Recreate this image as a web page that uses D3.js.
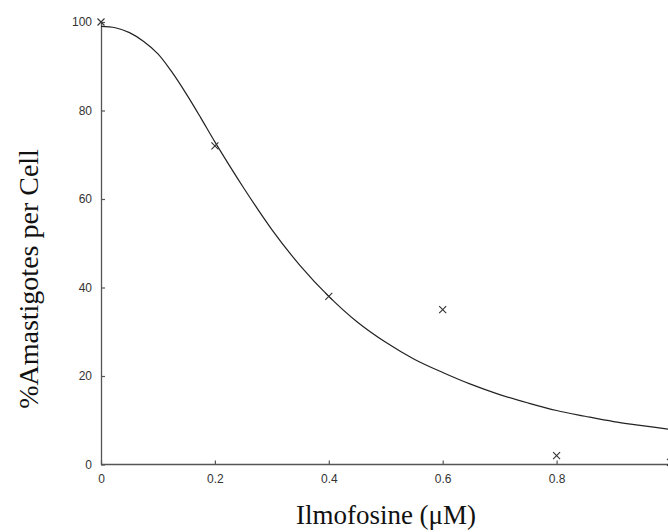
<!DOCTYPE html>
<html>
<head>
<meta charset="utf-8">
<script src="https://cdn.jsdelivr.net/npm/d3@7"></script>
<style>
  html, body { margin: 0; padding: 0; background: #fff; }
  svg { display: block; }
</style>
</head>
<body>
<svg id="chart" width="668" height="532"></svg>
<script>
// Measured data points (Ilmofosine concentration, µM vs % amastigotes per cell)
const doseValues = [0, 0.2, 0.4, 0.6, 0.8, 1.0];
const amastigoteValues = [100, 72, 38, 35, 2, 0.5];

// Fitted curve
const curveDose = [0, 0.025, 0.05, 0.075, 0.1, 0.125, 0.15, 0.175, 0.2, 0.25, 0.3, 0.35, 0.4, 0.45, 0.5, 0.55, 0.6, 0.65, 0.7, 0.75, 0.8, 0.85, 0.9, 0.95, 1.0];
const curveValues = [99, 98.7, 97.6, 95.6, 92.8, 88.6, 83.7, 78.4, 72.9, 62.6, 53.1, 44.9, 38, 32.2, 27.6, 23.8, 20.8, 18.1, 15.8, 13.9, 12.2, 10.9, 9.7, 8.8, 7.9];

const xTicks = [0, 0.2, 0.4, 0.6, 0.8];
const yTicks = [0, 20, 40, 60, 80, 100];

const xTitle = "Ilmofosine (\u03BCM)";
const yTitle = "%Amastigotes per Cell";

const svg = d3.select("#chart");
const x = d3.scaleLinear().domain([0, 1]).range([101, 670.5]);
const y = d3.scaleLinear().domain([0, 100]).range([464.5, 22]);

const axisColor = "#555";
const inkColor = "#333";

// X axis
const gx = svg.append("g")
  .attr("transform", `translate(0,${y(0)})`)
  .call(d3.axisBottom(x).tickValues(xTicks).tickFormat(d3.format("")).tickSizeInner(-4).tickSizeOuter(0).tickPadding(10));
gx.select(".domain").attr("stroke", axisColor).attr("stroke-width", 1.3);
gx.selectAll(".tick line").attr("stroke", axisColor).attr("stroke-width", 1.2);
gx.selectAll(".tick text").attr("fill", inkColor).attr("font-family", "Liberation Sans, Arial, sans-serif").attr("font-size", 12);
gx.select(".domain").attr("d", `M${x(0)},0H${x(1)}`);

// Y axis
const gy = svg.append("g")
  .attr("transform", `translate(${x(0)},0)`)
  .call(d3.axisLeft(y).tickValues(yTicks).tickFormat(d3.format("")).tickSizeInner(-4).tickSizeOuter(0).tickPadding(9));
gy.select(".domain").attr("stroke", axisColor).attr("stroke-width", 1.3);
gy.selectAll(".tick line").attr("stroke", axisColor).attr("stroke-width", 1.2);
gy.selectAll(".tick text").attr("fill", inkColor).attr("font-family", "Liberation Sans, Arial, sans-serif").attr("font-size", 12);

// Curve
const curveData = curveDose.map((d, i) => [d, curveValues[i]]);
svg.append("path")
  .datum(curveData)
  .attr("fill", "none")
  .attr("stroke", "#222")
  .attr("stroke-width", 1.2)
  .attr("d", d3.line().x(d => x(d[0])).y(d => y(d[1])).curve(d3.curveCatmullRom));

// Markers (crosses)
const pts = doseValues.map((d, i) => [d, amastigoteValues[i]]);
const s = 3.5;
svg.append("g").selectAll("path")
  .data(pts)
  .join("path")
  .attr("transform", d => `translate(${x(d[0])},${y(d[1])})`)
  .attr("d", `M${-s},${-s}L${s},${s}M${-s},${s}L${s},${-s}`)
  .attr("stroke", inkColor)
  .attr("stroke-width", 1.1)
  .attr("fill", "none");

// Axis titles
svg.append("text")
  .attr("x", 386)
  .attr("y", 524)
  .attr("text-anchor", "middle")
  .attr("font-family", "Liberation Serif, Times New Roman, serif")
  .attr("font-size", 27)
  .attr("fill", "#111")
  .text(xTitle);

svg.append("text")
  .attr("transform", `translate(38,279) rotate(-90)`)
  .attr("text-anchor", "middle")
  .attr("font-family", "Liberation Serif, Times New Roman, serif")
  .attr("font-size", 28)
  .attr("fill", "#111")
  .text(yTitle);
</script>
</body>
</html>
